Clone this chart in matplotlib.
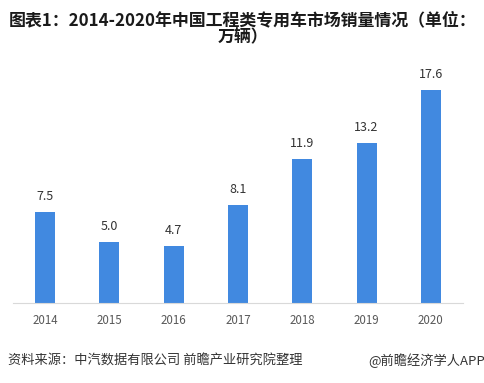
import matplotlib.pyplot as plt

plt.rcParams['font.family'] = ['Noto Sans CJK SC', 'DejaVu Sans']

years = ['2014', '2015', '2016', '2017', '2018', '2019', '2020']
sales = [7.5, 5.0, 4.7, 8.1, 11.9, 13.2, 17.6]

fig = plt.figure(figsize=(4.85, 3.83), dpi=100)
ax = fig.add_axes([13 / 485, 1 - 303 / 383, 450 / 485, 250 / 383])

x = range(len(years))
bars = ax.bar(x, sales, width=0.31, color='#4189e0', zorder=2)
for xi, v in zip(x, sales):
    ax.text(xi, v + 0.75, f'{v:.1f}', ha='center', va='bottom',
            fontsize=9, color='#333333')

ax.set_xlim(-0.5, 6.5)
ax.set_ylim(0, 20.66)
ax.set_xticks(list(x))
ax.set_xticklabels(years, fontsize=8.3, color='#595959')
ax.tick_params(axis='x', length=0, pad=8)
ax.set_yticks([])
for side in ['left', 'right', 'top']:
    ax.spines[side].set_visible(False)
ax.spines['bottom'].set_color('#d9d9d9')

fig.text(0.5, 1 - 20 / 383, '图表1：2014-2020年中国工程类专用车市场销量情况（单位：',
         ha='center', va='center', fontsize=12.2, fontweight='bold', color='#1a1a1a')
fig.text(0.5, 1 - 37 / 383, '万辆）', ha='center', va='center',
         fontsize=12.2, fontweight='bold', color='#1a1a1a')

fig.text(8 / 485, 1 - 361 / 383, '资料来源：中汽数据有限公司 前瞻产业研究院整理',
         ha='left', va='center', fontsize=9.5, color='#333333')
fig.text(485 / 485, 1 - 361 / 383, '@前瞻经济学人APP',
         ha='right', va='center', fontsize=9.5, color='#333333')

fig.savefig('out.png', dpi=100)
